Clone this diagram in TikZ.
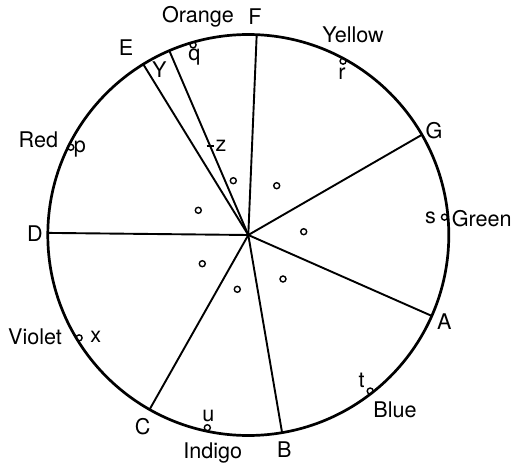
\documentclass[tikz,border=0pt]{standalone}
\usepackage{fontspec}
\setmainfont{TeX Gyre Heros}
\usetikzlibrary{calc}
\tikzset{
  lbl/.style={inner sep=0pt, font=\fontsize{10.8}{12}\selectfont},
  dot/.style={circle, draw, line width=0.7pt, minimum size=3pt, inner sep=0pt},
  radial/.style={line width=0.95pt},
  rim/.style={line width=1.35pt}
}
\begin{document}
\begin{tikzpicture}[x=0.5pt,y=0.5pt]
\useasboundingbox (0,0) rectangle (520,-471);
\coordinate (O) at (248.3,-235);
\draw[rim] (O) circle (200.5);
% rim points
\coordinate (F) at ($(O)+(87.6:200.5)$);
\coordinate (E) at ($(O)+(121.6:200.5)$);
\coordinate (Y) at ($(O)+(113.2:200.5)$);
\coordinate (G) at ($(O)+(30:200.5)$);
\coordinate (A) at ($(O)+(-23.8:200.5)$);
\coordinate (B) at ($(O)+(-80.3:200.5)$);
\coordinate (C) at ($(O)+(-119.5:200.5)$);
\coordinate (D) at ($(O)+(179.4:200.5)$);
\foreach \p in {F,E,Y,G,A,B,C,D} \draw[radial] (O) -- (\p);
% tick z on line to Y
\coordinate (z1) at (206.5,-145.7);
\coordinate (z2) at (213.5,-145.7);
\draw[line width=0.8pt] (z1) -- (z2);
% rim markers
\node[dot] (q) at ($(O)+(106.2:198)$) {};
\node[dot] (r) at ($(O)+(61.4:198)$) {};
\node[dot] (p) at ($(O)+(153.7:198)$) {};
\node[dot] (x) at ($(O)+(-148.7:198)$) {};
\node[dot] (s) at ($(O)+(5.2:197)$) {};
\node[dot] (t) at ($(O)+(-52:198)$) {};
\node[dot] (u) at ($(O)+(-102:197)$) {};
% inner markers
\node[dot] (i1) at (233.3,-180.7) {};
\node[dot] (i2) at (276.7,-185.7) {};
\node[dot] (i3) at (198.3,-210.3) {};
\node[dot] (i4) at (303.7,-231.7) {};
\node[dot] (i5) at (202.3,-263.7) {};
\node[dot] (i6) at (283,-279) {};
\node[dot] (i7) at (237.3,-289.3) {};
% labels
\node[lbl] (lOrange) at (198,-17) {Orange};
\node[lbl] (lF) at (255,-17) {F};
\node[lbl] (lE) at (126,-48) {E};
\node[lbl] (lY) at (159.3,-70) {Y};
\node[lbl] (lq) at (194.3,-57) {q};
\node[lbl] (lz) at (221,-146) {z};
\node[lbl] (lYellow) at (353,-35) {Yellow};
\node[lbl] (lr) at (342,-74) {r};
\node[lbl] (lRed) at (38.3,-140) {Red};
\node[lbl] (lp) at (80,-149) {p};
\node[lbl] (lD) at (35,-233.3) {D};
\node[lbl] (lViolet) at (35,-336.7) {Violet};
\node[lbl] (lx) at (95.7,-337.3) {x};
\node[lbl] (lG) at (434,-130.7) {G};
\node[lbl] (ls) at (430.5,-218.3) {s};
\node[lbl] (lGreen) at (481.7,-218.3) {Green};
\node[lbl] (lA) at (444.3,-321.7) {A};
\node[lbl] (lt) at (361.7,-380.7) {t};
\node[lbl] (lBlue) at (395,-410) {Blue};
\node[lbl] (lC) at (142.7,-426.7) {C};
\node[lbl] (lu) at (208.3,-416) {u};
\node[lbl] (lIndigo) at (212.7,-452.7) {Indigo};
\node[lbl] (lB) at (284.3,-450) {B};
\end{tikzpicture}
\end{document}
